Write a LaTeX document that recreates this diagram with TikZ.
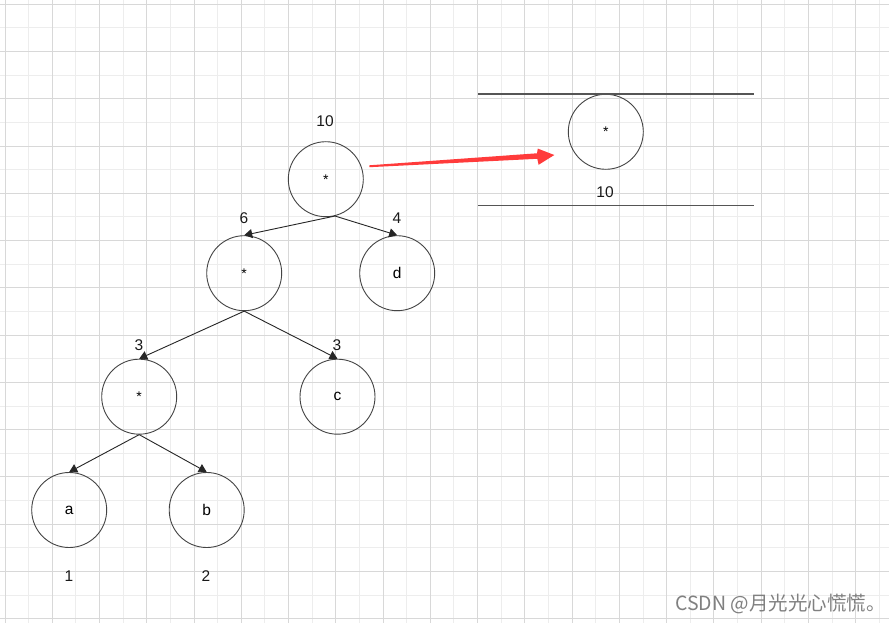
\documentclass[tikz,border=0pt]{standalone}
\usepackage{fontspec}
\setmainfont{Liberation Sans}
\newfontfamily\cjkfont{Noto Sans CJK SC}
\usetikzlibrary{arrows.meta}
\definecolor{gridmajor}{HTML}{D8D8D8}
\definecolor{gridminor}{HTML}{EDEDED}
\definecolor{redarrow}{HTML}{FF3B3B}
\definecolor{rulegray}{HTML}{555555}
\definecolor{circgray}{HTML}{444444}
\begin{document}
\begin{tikzpicture}[x=1pt,y=-1pt,
  treenode/.style={circle,draw=circgray,line width=0.9pt,minimum size=75pt,inner sep=0pt,font=\fontsize{15.5}{18}\selectfont},
  starnode/.style={treenode,font=\fontsize{14}{16}\selectfont},
  numlabel/.style={font=\fontsize{15.5}{18}\selectfont,text=black!90,inner sep=0pt},
  treeedge/.style={draw=black!85,line width=0.9pt,-{Triangle[length=8pt,width=9pt]}},
  ruleline/.style={draw=rulegray,line width=1.3pt},
]
\useasboundingbox[fill=white] (0,0) rectangle (889,623);
% grid
\foreach \k in {1,3,...,37} \draw[gridminor,line width=1pt] ({5+23.63*\k},0) -- ({5+23.63*\k},623);
\foreach \k in {1,3,...,25} \draw[gridminor,line width=1pt] (0,{4.3+23.63*\k}) -- (889,{4.3+23.63*\k});
\foreach \k in {0,2,...,36} \draw[gridmajor,line width=1pt] ({5+23.63*\k},0) -- ({5+23.63*\k},623);
\foreach \k in {0,2,...,26} \draw[gridmajor,line width=1pt] (0,{4.3+23.63*\k}) -- (889,{4.3+23.63*\k});
% tree nodes
\node[starnode] (root) at (325.8,179.2) {*};
\node[starnode] (m2) at (244.2,273.2) {*};
\node[treenode] (d) at (397.2,273.2) {d};
\node[starnode] (m3) at (139.2,396.7) {*};
\node[treenode] (c) at (337.5,396.7) {c};
\node[treenode] (a) at (69.2,510) {a};
\node[treenode] (b) at (206.7,510) {b};
\node[starnode] (right) at (605.8,131.8) {*};
% edges
\draw[treeedge] (root.-76) -- (m2.north);
\draw[treeedge] (root.-76) -- (d.north);
\draw[treeedge] (m2.south) -- (m3.north);
\draw[treeedge] (m2.south) -- (c.north);
\draw[treeedge] (m3.south) -- (a.north);
\draw[treeedge] (m3.south) -- (b.north);
% labels
\node[numlabel] (l10) at (325,121) {10};
\node[numlabel] (l6) at (244,218.5) {6};
\node[numlabel] (l4) at (397,218.5) {4};
\node[numlabel] (l3a) at (139,345.5) {3};
\node[numlabel] (l3b) at (337,345.5) {3};
\node[numlabel] (l1) at (69,576.5) {1};
\node[numlabel] (l2) at (206,576.5) {2};
\node[numlabel] (r10) at (605,192.5) {10};
% right panel rules
\draw[ruleline] (478,94) -- (753.7,94);
\draw[ruleline] (478,205.3) -- (753.7,205.3);
% red tapered arrow
\fill[redarrow] (369.26,165.3) -- (537.0,153.3) -- (537.8,148.6) -- (554.3,155.0)
  -- (538.6,164.8) -- (537.3,158.8) -- (369.34,167.2) -- cycle;
% watermark
\node[anchor=west,inner sep=0pt,font=\cjkfont\fontsize{19.5}{21}\selectfont,text=black!50] (wm) at (675,604) {CSDN @月光光心慌慌。};
\end{tikzpicture}
\end{document}
